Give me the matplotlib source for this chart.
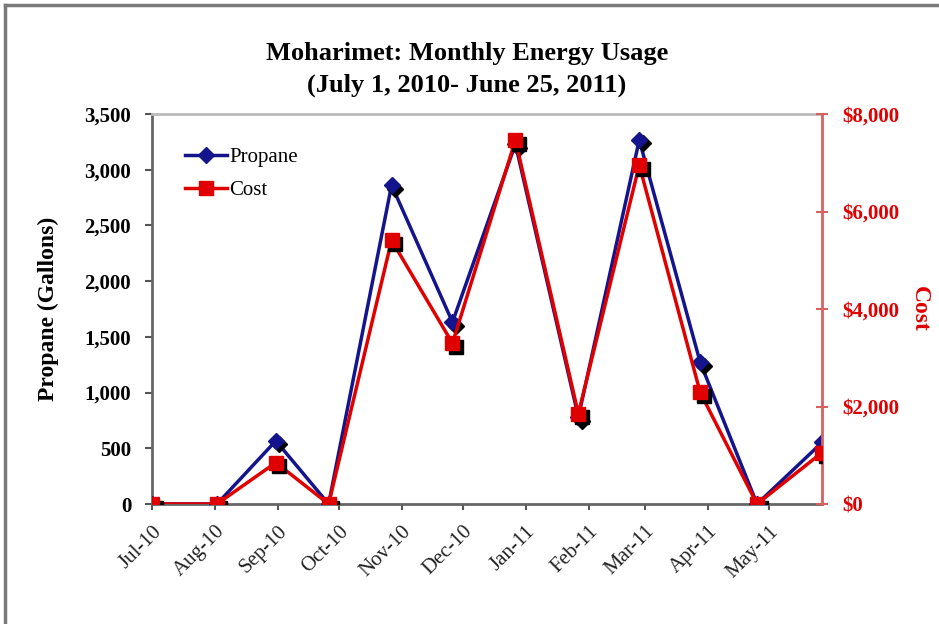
import matplotlib
matplotlib.use("Agg")
import matplotlib.pyplot as plt
import matplotlib.dates as mdates
import matplotlib.transforms as mtransforms
from matplotlib.lines import Line2D
from matplotlib.ticker import FuncFormatter, MultipleLocator
import numpy as np

# meter reading dates and values
read_dates = ["2010-07-01", "2010-08-02", "2010-08-31", "2010-09-26",
              "2010-10-27", "2010-11-26", "2010-12-27", "2011-01-27",
              "2011-02-26", "2011-03-28", "2011-04-25", "2011-05-27"]
propane = [0, 0, 567, 0, 2862, 1632, 3230, 780, 3267, 1272, 0, 552]
cost = [0, 0, 850, 0, 5409, 3297, 7466, 1851, 6952, 2289, 0, 1055]

dates = np.array(read_dates, dtype="datetime64[D]").astype("O")

plt.rcParams['font.family'] = ['Liberation Serif', 'DejaVu Serif']

blue = "#14148c"
red = "#e00000"

fig = plt.figure(figsize=(9.39, 6.24), dpi=100)
ax = fig.add_axes([152 / 939, 1 - 504 / 624, 670 / 939, 390 / 624])
ax2 = ax.twinx()

shadow = mtransforms.offset_copy(ax.transData, fig, x=3.5, y=-3.5, units='dots')
shadow2 = mtransforms.offset_copy(ax2.transData, fig, x=3.5, y=-3.5, units='dots')

ax.plot(dates, propane, color=blue, lw=2.5, zorder=2)
ax.plot(dates, propane, ls='none', marker='D', ms=8, color='black', transform=shadow, zorder=3)
ax.plot(dates, propane, ls='none', marker='D', ms=8, color=blue, zorder=4)

ax2.plot(dates, cost, color=red, lw=2.5, zorder=2)
ax2.plot(dates, cost, ls='none', marker='s', ms=10, color='black', transform=shadow2, zorder=3)
ax2.plot(dates, cost, ls='none', marker='s', ms=10, color=red, zorder=4)

ax.set_xlim(dates[0], dates[-1])
ax.set_ylim(0, 3500)
ax2.set_ylim(0, 8000)

ax.xaxis.set_major_locator(mdates.MonthLocator())
ax.xaxis.set_major_formatter(mdates.DateFormatter('%b-%y'))
ax.yaxis.set_major_locator(MultipleLocator(500))
ax.yaxis.set_major_formatter(FuncFormatter(lambda v, p: f"{v:,.0f}"))
ax2.yaxis.set_major_locator(MultipleLocator(2000))
ax2.yaxis.set_major_formatter(FuncFormatter(lambda v, p: f"${v:,.0f}"))

for lab in ax.get_xticklabels():
    lab.set_rotation(45)
    lab.set_ha('right')
    lab.set_rotation_mode('anchor')
    lab.set_fontsize(15)
    lab.set_color('#222222')

ax.tick_params(axis='x', direction='out', length=4, width=1.5, color='#555555', pad=9)
ax.tick_params(axis='y', direction='out', length=5, width=1.5, color='#555555',
               labelsize=15, pad=10)
for lab in ax.get_yticklabels():
    lab.set_fontweight('bold')
ax2.tick_params(axis='y', direction='inout', length=9, width=1.5, color='#d96060',
                labelsize=15, labelcolor=red, pad=10)
for lab in ax2.get_yticklabels():
    lab.set_fontweight('bold')

for sp in ('left', 'bottom'):
    ax.spines[sp].set_color('#666666')
    ax.spines[sp].set_linewidth(2)
ax.spines['top'].set_color('#bbbbbb')
ax.spines['top'].set_linewidth(2)
ax.spines['right'].set_visible(False)
ax2.spines['right'].set_color('#d96060')
ax2.spines['right'].set_linewidth(2)
for sp in ('left', 'bottom', 'top'):
    ax2.spines[sp].set_visible(False)

ax.set_ylabel("Propane (Gallons)", fontsize=17, fontweight='bold', labelpad=18)
ax2.set_ylabel("Cost", fontsize=17, fontweight='bold', color=red, rotation=270, labelpad=22)

fig.text(0.497, 0.889, "Moharimet: Monthly Energy Usage\n(July 1, 2010- June 25, 2011)",
         ha='center', va='center', fontsize=19, fontweight='bold', linespacing=1.45)

handles = [Line2D([], [], color=blue, lw=2.5, marker='D', ms=8),
           Line2D([], [], color=red, lw=2.5, marker='s', ms=10)]
ax2.legend(handles, ["Propane", "Cost"], loc='upper left', bbox_to_anchor=(0.022, 0.962),
           frameon=False, fontsize=15, handlelength=2.0, handletextpad=0.1,
           labelspacing=0.65)

# outer chart border (only top and left edges are visible in the crop)
fig.add_artist(Line2D([5 / 939, 1], [1 - 5 / 624, 1 - 5 / 624], color='#7a7a7a', lw=2.5,
                      transform=fig.transFigure))
fig.add_artist(Line2D([5 / 939, 5 / 939], [0, 1 - 5 / 624], color='#7a7a7a', lw=2.5,
                      transform=fig.transFigure))

fig.savefig("out.png", dpi=100)
